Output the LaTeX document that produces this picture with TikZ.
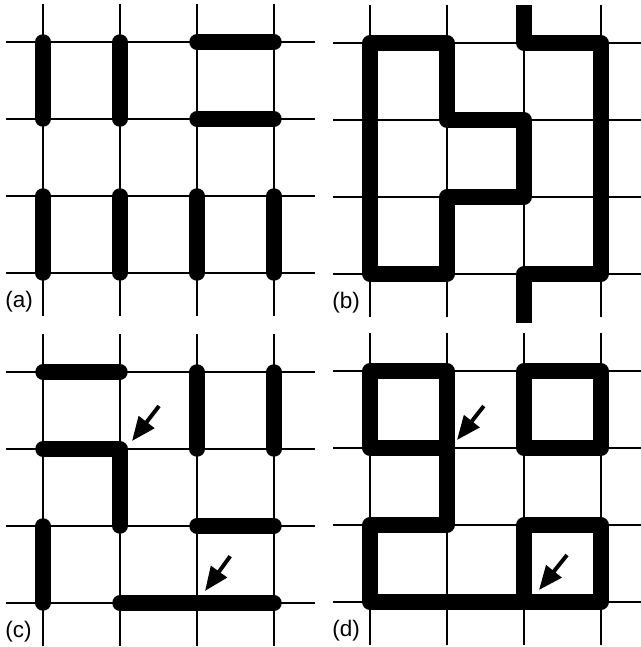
\documentclass[tikz,border=0pt]{standalone}
\usepackage{fontspec}
\setsansfont{Liberation Sans}
\usetikzlibrary{arrows.meta}

\begin{document}
\begin{tikzpicture}[
  % thin square lattice, and the fat bonds laid on top of it
  lattice/.style={line width=1.4pt, color=black},
  bond/.style={line width=11pt, line cap=round, line join=round},
  stub/.style={line width=11pt, line cap=butt, line join=round},
  pointer/.style={-{Triangle[length=6mm, width=4.8mm]}, line width=2.8pt},
  tag/.style={font=\sffamily\fontsize{16}{16}\selectfont, anchor=west,
              inner sep=0pt}
]

\def\S{1.925}   % lattice spacing
\def\E{6.8}     % how far the lattice lines run past the first site

\useasboundingbox (0,0) rectangle (16,-16.175);

% --- four panels: lattice lines, named sites (col-row), panel tag ------------
\foreach \p/\ox/\oy in {a/1.075/-1.05, b/9.25/-1.075, c/1.075/-9.3, d/9.25/-9.275}{
  \begin{scope}[shift={(\ox,\oy)}]
    \foreach \k in {0,...,3}{
      \draw[lattice] (-0.925,-\k*\S) -- (\E,-\k*\S);
      \draw[lattice] (\k*\S,0.95) -- (\k*\S,-\E-0.05);
      \coordinate (\p-t\k) at (\k*\S,0.95);
      \coordinate (\p-b\k) at (\k*\S,-\E-0.2);
    }
    \foreach \i in {0,...,3}
      \foreach \j in {0,...,3}
        \coordinate (\p-\i-\j) at (\i*\S,-\j*\S);
    \node[tag] (tag-\p) at (-0.95,-6.5) {(\p)};
  \end{scope}
}

% --- (a) ----------------------------------------------------------------------
\draw[bond] (a-0-0) -- (a-0-1);
\draw[bond] (a-1-0) -- (a-1-1);
\draw[bond] (a-2-0) -- (a-3-0);
\draw[bond] (a-2-1) -- (a-3-1);
\foreach \i in {0,...,3}
  \draw[bond] (a-\i-2) -- (a-\i-3);

% --- (b) ----------------------------------------------------------------------
\draw[bond] (b-0-0) -- (b-1-0) -- (b-1-1) -- (b-2-1) -- (b-2-2) -- (b-1-2)
  -- (b-1-3) -- (b-0-3) -- cycle;
\draw[stub] (b-t2) -- (b-2-0) -- (b-3-0) -- (b-3-3) -- (b-2-3) -- (b-b2);

% --- (c) ----------------------------------------------------------------------
\draw[bond] (c-0-0) -- (c-1-0);
\draw[bond] (c-0-1) -- (c-1-1) -- (c-1-2);
\draw[bond] (c-2-0) -- (c-2-1);
\draw[bond] (c-3-0) -- (c-3-1);
\draw[bond] (c-0-2) -- (c-0-3);
\draw[bond] (c-2-2) -- (c-3-2);
\draw[bond] (c-1-3) -- (c-3-3);
\draw[pointer] ([shift={(0.975,1.075)}]c-1-1) -- ([shift={(0.3,0.2)}]c-1-1);
\draw[pointer] ([shift={(0.83,1.17)}]c-2-3) -- ([shift={(0.2,0.3)}]c-2-3);

% --- (d) ----------------------------------------------------------------------
\draw[bond] (d-1-1) -- (d-0-1) -- (d-0-0) -- (d-1-0) -- (d-1-2) -- (d-0-2)
  -- (d-0-3) -- (d-3-3) -- (d-3-2) -- (d-2-2) -- (d-2-3);
\draw[bond] (d-2-0) -- (d-3-0) -- (d-3-1) -- (d-2-1) -- cycle;
\draw[pointer] ([shift={(0.92,1.05)}]d-1-1) -- ([shift={(0.25,0.2)}]d-1-1);
\draw[pointer] ([shift={(1.075,1.175)}]d-2-3) -- ([shift={(0.375,0.3)}]d-2-3);

\end{tikzpicture}
\end{document}
